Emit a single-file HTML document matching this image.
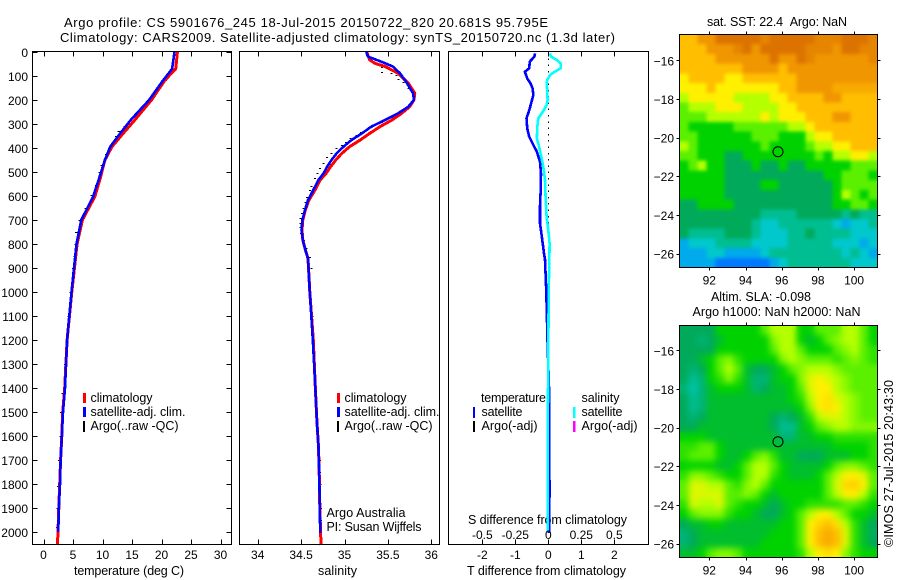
<!DOCTYPE html>
<html>
<head>
<meta charset="utf-8">
<title>Argo profile</title>
<style>
html,body{margin:0;padding:0;background:#fff;}
svg{display:block;}
text{font-family:"Liberation Sans",sans-serif;font-size:12px;fill:#000;}
text[textLength]{font-size:12.5px;}
text.big{font-size:13px;}
</style>
</head>
<body>
<svg id="chart" xmlns="http://www.w3.org/2000/svg" width="900" height="580" viewBox="0 0 900 580">
<defs>
<filter id="blur-sst-map" x="0" y="0" width="1" height="1" color-interpolation-filters="sRGB">
<feGaussianBlur in="SourceGraphic" stdDeviation="1.8" result="b"/>
<feMerge><feMergeNode in="SourceGraphic"/><feMergeNode in="b"/></feMerge>
</filter>
<filter id="blur-sla-map" x="0" y="0" width="1" height="1" color-interpolation-filters="sRGB">
<feGaussianBlur in="SourceGraphic" stdDeviation="3.5" result="b"/>
<feMerge><feMergeNode in="SourceGraphic"/><feMergeNode in="b"/></feMerge>
</filter>
</defs>
<rect width="900" height="580" fill="#fff"/>
<text class="big" x="64" y="27" textLength="484">Argo profile: CS 5901676_245 18-Jul-2015 20150722_820 20.681S 95.795E</text>
<text class="big" x="60" y="42" textLength="555">Climatology: CARS2009. Satellite-adjusted climatology: synTS_20150720.nc (1.3d later)</text>
<text x="74" y="575" textLength="110">temperature (deg C)</text>
<text x="318" y="575" textLength="39">salinity</text>
<text x="467" y="575" textLength="159">T difference from climatology</text>
<text x="468" y="524" textLength="159">S difference from climatology</text>
<g id="layer"></g>
<g>
<rect x="83" y="393" width="3" height="10" fill="#f00"/>
<rect x="83" y="407" width="3" height="10" fill="#00f"/>
<rect x="83" y="421" width="2" height="11" fill="#000"/>
<text x="90.5" y="402" textLength="62">climatology</text>
<text x="90.5" y="416" textLength="95">satellite-adj. clim.</text>
<text x="90.5" y="430" textLength="88">Argo(..raw -QC)</text>
</g>
<g>
<rect x="337" y="393" width="3" height="10" fill="#f00"/>
<rect x="337" y="407" width="3" height="10" fill="#00f"/>
<rect x="337" y="421" width="2" height="11" fill="#000"/>
<text x="344.5" y="402" textLength="62">climatology</text>
<text x="344.5" y="416" textLength="95">satellite-adj. clim.</text>
<text x="344.5" y="430" textLength="88">Argo(..raw -QC)</text>
<text x="326.5" y="517" textLength="79">Argo Australia</text>
<text x="326.5" y="531" textLength="95">PI: Susan Wijffels</text>
</g>
<g>
<text x="481" y="402" textLength="65">temperature</text>
<rect x="473" y="407" width="2" height="11" fill="#00f"/>
<rect x="473" y="421" width="2" height="11" fill="#000"/>
<text x="481.5" y="416" textLength="41">satellite</text>
<text x="481.5" y="430" textLength="56">Argo(-adj)</text>
<text x="581.5" y="402" textLength="38">salinity</text>
<rect x="573" y="407" width="2.5" height="11" fill="#0ff"/>
<rect x="573" y="421" width="2.5" height="11" fill="#f0f"/>
<text x="581.5" y="416" textLength="41">satellite</text>
<text x="581.5" y="430" textLength="56">Argo(-adj)</text>
</g>
<text x="707" y="26" textLength="140">sat. SST: 22.4 &#160;Argo: NaN</text>
<text x="711" y="301" textLength="100">Altim. SLA: -0.098</text>
<text x="692.5" y="316" textLength="168">Argo h1000: NaN h2000: NaN</text>
<text transform="translate(893,547) rotate(-90)" x="0" y="0" textLength="167">©IMOS 27-Jul-2015 20:43:30</text>
</svg>
<script>
// ---- shared depth axis ----
const depthTicks = [0,100,200,300,400,500,600,700,800,900,1000,1100,1200,1300,1400,1500,1600,1700,1800,1900,2000];

// ---- temperature panel ----
const tempTicks = [0,5,10,15,20,25,30];
const tempClimDepth = [0,70,117,200,283,339,395,450,520,603,700,800,1000,1200,1400,1500,1600,1700,1800,1900,2000,2055];
const tempClim = [22.7,22.4,20.6,18.3,15.5,13.5,11.6,10.4,9.7,8.7,6.6,5.7,4.8,4.0,3.6,3.25,3.1,2.9,2.75,2.6,2.45,2.35];
const tempSatDepth = [0,70,117,200,283,339,395,450,520,603,700,800,1000,1200,1400,1500,1600,1700,1800,1900,2000];
const tempSat = [22.2,21.8,20.3,17.9,14.8,13.0,11.3,10.4,9.5,8.4,6.4,5.6,4.75,4.0,3.65,3.3,3.1,2.9,2.8,2.6,2.5];
const tempArgoDepth = [117,198,220,308,328,350,391,411,425,471,499,533,554,596,650,700,750,800,850,900,1000,1100,1200,1300,1420,1500,1600,1700,1810,1900,1980];
const tempArgo = [20.7,17.9,17.2,13.8,12.8,12.4,11.4,11.0,10.7,9.9,9.6,9.3,9.0,8.2,7.2,6.2,5.6,5.5,5.3,5.1,4.7,4.3,3.95,3.75,3.3,3.05,2.95,2.75,2.55,2.45,2.35];

// ---- salinity panel ----
const salTicks = [34,34.5,35,35.5,36];
const salClimDepth = [0,33,47,61,89,130,172,200,228,255,283,311,339,367,394,422,450,478,505,533,575,617,658,700,742,783,825,860,1000,1200,1367,1450,1546,1646,1770,1895,2004,2055];
const salClim = [35.256,35.29,35.35,35.47,35.62,35.735,35.81,35.80,35.75,35.66,35.55,35.41,35.29,35.18,35.06,34.97,34.90,34.84,34.79,34.72,34.66,34.59,34.55,34.52,34.51,34.52,34.55,34.58,34.60,34.64,34.66,34.67,34.683,34.70,34.71,34.715,34.725,34.73];
const salSatDepth = [0,19,33,47,61,89,130,172,200,228,255,283,311,339,367,394,422,450,478,505,533,575,617,658,700,742,783,825,860,1000,1200,1367,1450,1546,1646,1770,1895,2004];
const salSat = [35.25,35.27,35.37,35.47,35.56,35.64,35.72,35.79,35.80,35.735,35.62,35.47,35.31,35.20,35.08,34.99,34.91,34.85,34.80,34.76,34.70,34.64,34.58,34.545,34.515,34.505,34.52,34.55,34.58,34.60,34.635,34.66,34.67,34.683,34.70,34.71,34.715,34.72];
const salArgoDepth = [61,85,89,96,114,124,151,165,207,235,263,290,314,322,332,346,360,376,387,401,422,439,461,485,506,526,557,575,606,626,651,669,693,711,731,753,783,818,853,900,1000,1100,1200,1300,1400,1500,1600,1700,1750,1800,1880,1900,1950];
const salArgo = [35.43,35.43,35.54,35.60,35.62,35.68,35.74,35.79,35.77,35.72,35.58,35.43,35.31,35.26,35.19,35.14,35.07,35.02,34.97,34.91,34.85,34.80,34.76,34.72,34.69,34.66,34.62,34.60,34.57,34.55,34.53,34.51,34.495,34.495,34.495,34.50,34.535,34.565,34.60,34.62,34.61,34.63,34.65,34.655,34.66,34.675,34.69,34.715,34.72,34.725,34.725,34.73,34.73];

// ---- difference panel ----
const diffTTicks = [-2,-1,0,1,2];
const diffSTicks = ["-0.5","-0.25","0","0.25","0.5"];
const diffSTickValues = [-0.5,-0.25,0,0.25,0.5];
const diffTDepth = [6,19,40,68,82,110,131,151,179,207,235,256,276,318,353,388,415,457,506,575,644,714,756,797,839,864,1000,1200,1400,1780,1790,1850,1860,2005];
const diffT = [-0.40,-0.42,-0.56,-0.58,-0.71,-0.64,-0.54,-0.48,-0.45,-0.51,-0.56,-0.61,-0.66,-0.64,-0.58,-0.45,-0.35,-0.25,-0.22,-0.23,-0.25,-0.25,-0.21,-0.17,-0.13,-0.10,-0.06,-0.025,0.02,0.02,0.05,0.05,0.02,0.02];
const diffSDepth = [6,19,33,47,68,82,96,117,131,158,200,221,242,256,276,311,360,394,429,478,533,617,686,742,797,853,1000,1500,1995];
const diffS = [0.013,0.02,0.063,0.093,0.093,0.05,0.013,-0.008,-0.013,-0.008,-0.005,-0.013,-0.033,-0.05,-0.076,-0.083,-0.086,-0.07,-0.056,-0.038,-0.025,-0.02,-0.013,0.0,0.01,0.008,0.003,-0.003,-0.005];

// ---- map panels ----
const lonTicks = [92,94,96,98,100];
const latTicks = [-16,-18,-20,-22,-24,-26];
const argoLon = 95.795;
const argoLat = -20.681;
const sstGrid = [
[9,9,10,10,11,11,11,11,11,10.5,11,11,11,11,11,10.5,10.5,10.5,11,11,11,10.5],
[9,9,9,10,10,10,10.5,11,10,11,11,11,11,11,10.5,10.5,10.5,10,11,11,10.5,10.5],
[9,9,9,9,10,10,10,10,10,10,11,10,10,11,10.5,10,10,10,10,10,10,10.5],
[9,9,9,9,9,9,9,10,10,10,10,9,10,10,10,10,10,10,10,10,10,10],
[8,9,9,9,9,8,8,9,9,9,9,9,9,10,10,10,10,10,10,10,10,10],
[8,8,8,9,8,8,8,8,8,8,8,9,9,10,10,10,10,9.5,9.5,9.5,9.5,9.5],
[7,8,8,8,8,8,7,7,7,7,8,8,9,9,9,9,10,10,9,9,9,9],
[6,7,7,7,8,8,8,7,7,7,7,8,8,9,9,9,9,9,9,9,9,9],
[6,6,6,7,7,7,7,7,7,8,7,8,8,8,9,9,9,10,10,9,9,9],
[6,5,5,5,5,5,6,6,6,6,6,6,7,7,8,9,9,9,9,9,9,9],
[6,6,5,5,5,5,5,5,6,6,6,5,5,5,7,8,8,9,9,9,9,9],
[7,6,5,5,5,5,5,5,5,6,5,5,5,5,6,7,7,8,8,9,9,9],
[6,6,5,5,5,4,4,5,5,5,5,5,5,5,5,6,5,7,7,8,8,7],
[5,6,7,5,5,4,4,4,5,4,4,5,4,4,5,5,5,5,5,6,6,6],
[5,5,5,5,5,4,4,4,4,4,4,4,4,4,4,4,5,5,6,6,6,5],
[5,5,5,5,5,4,4,4,4,5,5,4,4,4,4,4,4,5,6,6,6,6],
[5,5,5,5,5,4,4,4,4,4,4,4,4,4,4,4,4,5,7,6,5,6],
[4,4,5,5,5,5,4,4,4,4,4,4,4,4,4,4,4,5,5,6,6,5],
[4,4,4,4,4,4,4,4,4,3,3,3,3,4,4,4,4,4,3,4,3,3],
[4,4,4,4,4,4,4,4,3,2,2,3,3,3,3,3,3,2,1,2,2,3],
[4,3,3,3,3,4,4,4,3,2,2,2,3,3,4,3,3,3,3,2,2,2],
[1,2,2,2,3,3,3,3,2,2,2,2,3,3,3,3,3,2,2,2,1,2],
[1,1,1,2,2,1,1,1,1,2,3,3,3,3,3,3,3,3,2,3,2,1],
[1,1,1,1,0,0,0,0,0,0,1,2,3,3,3,3,3,3,3,2,2,2]
];
const slaGrid = [
[4,4,4,4,5,5,5,5,5,6,7,7,7,5,5,6,6,6,7,7,6,5],
[4,4,3.5,4,4.5,5,5,5,5,5,6.5,7,7,5,4.5,5,6,6.5,7,7,6,5],
[4,4,4,4,5,5,5,5,5,5,6,7,7,6,5,5,5,6,6.5,7,6,5.5],
[4,4,4.5,5,6,6.5,5.5,5,5,5,5,6.5,7,6.5,6,6,6,5.5,6,6.5,6,5.5],
[4,3.5,4,5,6,7,6,4.5,4,4,4.5,5,6,6.5,7,7,7,6.5,6,6,6,6],
[4,3,3.5,5,5.5,6.5,5.5,4.5,3.5,3.5,4.5,5,5,6.5,7.5,8,7.5,7,6.5,6,6,6],
[3.5,2.5,3.5,4.5,5,5,5,4.5,3.5,4,4.5,4.5,5,6,7.5,8,8,7,6.5,6,6,6],
[4,3,3.5,4.5,4.5,4.5,4.5,4.5,4.5,4.5,4.5,4.5,5,5.5,7,8,8.3,7.5,7,6.5,6,6],
[4,3,3.5,4.5,4.5,4.5,4.5,4.5,4.5,4.5,4.5,4.5,4.5,5,6.5,8,8.3,8,7,6.5,6,6],
[4,3.5,4,4.5,4.5,4.5,4.5,4.5,4.5,4.5,4,3.5,4,4.5,5.5,7,7.5,7.5,7,6.5,6,6],
[4,4,4.5,4.5,4.5,4.5,4.5,4.5,4.5,4.5,4,3,3,4.5,5,6,6.5,7,7,6.5,6.5,6.5],
[5,5,5,4.5,4.5,4.5,4.5,4.5,4.5,4.5,4.5,3.5,3.5,4.5,4.5,5,5,5.5,5.5,5.5,5.5,5.5],
[5.5,5.5,6,6,5,4.5,4.5,4.5,4.5,4.5,4.5,4.5,4.5,4.5,4.5,4.5,4.5,5,5,5,5,5.5],
[5.5,6,6,6,5,4.5,4.5,5,6,6.5,5.5,4.5,4.5,4,4,4,4.5,4.5,4.5,5,5,5.5],
[5,5,5,5,4.5,4.5,5,6,7,7,6,5,4.5,4.5,4.5,4.5,5,6,6.5,6.5,6,5.5],
[5.5,6.5,6.5,6,5.5,5,5,6,7,7,5.5,5,4.5,4.5,4.5,5,6,7,8,8,7.5,6],
[6,7.5,7.5,7,7,6,5.5,6.5,7,6,5,5,5,5,5,5,6,7.5,8.5,8.7,8,6],
[6,7.5,7.5,7.5,7.5,6,6,6.5,6,5,4.5,5,5,5,5,5,6,7,8,8,7,5.5],
[5.5,7.5,7,7,7.5,6,5.5,5,5,4.5,4,4.5,5,5,5.5,5.5,5.5,5.5,6,6,5.5,5],
[5,6,6.5,6.5,6.5,5.5,5,5,4.5,4,4,4.5,5,6,7,8,8,7,6,5,5,4.5],
[4,4.5,4.5,5,5,4.5,4.5,4.5,4.5,4.5,4.5,5,5,6,8,8.5,9,8.3,7,5.5,4.5,4],
[3.5,4,4.5,4.5,4.5,4.5,4.5,4.5,4.5,4.5,5,5,5,6,8,9,9.5,9,7.5,5.5,4.5,3.8],
[3.5,4,4.5,4.5,4.5,4.5,4.5,4.5,4.5,5,5,5,5,6,8,9,9.5,9,7.5,5.5,4.5,4],
[4.5,4.5,5,6,6.5,6.5,6,5,5,5,5,5,5,5.5,7,8,8.3,8,6.5,5.5,5,5]
];
const colorStops = [[0,120,255],[0,170,235],[0,200,205],[0,190,145],[0,170,90],[0,210,0],[90,240,0],[180,255,0],[255,240,0],[255,190,0],[240,150,0],[220,115,0]];

const SVGNS = "http://www.w3.org/2000/svg";
const layer = document.getElementById("layer");
let parent = layer;
function make(tag, name, attrs) {
  const el = document.createElementNS(SVGNS, tag);
  
  
  for (const k in attrs) el.setAttribute(k, attrs[k]);
  parent.appendChild(el);
  return el;
}
function label(name, x, y, str, anchor) {
  const t = make("text", name, {x: x, y: y, "text-anchor": anchor || "middle"});
  t.textContent = str;
  return t;
}

const yDepth = d => 52 + d * 0.24;
const PT = {left: 32.5, right: 231.5, x: v => 43.5 + v * 5.9};
const PS = {left: 239.5, right: 439.5, x: v => 257.7 + (v - 34) * 86.8};
const PD = {left: 448.5, right: 648.5, x: v => 548.3 + v * 33, sx: v => 548.3 + v * 132};
const TOP = 51.5, BOTTOM = 544.5;

function line(name, xs, ds, xf, color, width) {
  const pts = xs.map((v, i) => xf(v).toFixed(1) + "," + yDepth(ds[i]).toFixed(1)).join(" ");
  make("polyline", name, {points: pts, fill: "none", stroke: color, "stroke-width": width, "stroke-linejoin": "round", "shape-rendering": "crispEdges"});
}
function argoTicks(name, xs, ds, xf, w) {
  xs.forEach((v, i) => {
    make("rect", name, {x: (xf(v) - w / 2).toFixed(1), y: Math.round(yDepth(ds[i])), width: w, height: 1, fill: "#000", "shape-rendering": "crispEdges"});
  });
}
function panelFrame(name, P, xTicks, xf) {
  make("rect", name + "-frame", {x: P.left, y: TOP, width: P.right - P.left, height: BOTTOM - TOP, fill: "none", stroke: "#000", "stroke-width": 1, "shape-rendering": "crispEdges"});
  xTicks.forEach(v => {
    const x = Math.round(xf(v)) + 0.5;
    make("line", name + "-top-tick", {x1: x, x2: x, y1: TOP, y2: TOP + 5, stroke: "#000", "shape-rendering": "crispEdges"});
    make("line", name + "-bottom-tick", {x1: x, x2: x, y1: BOTTOM, y2: BOTTOM - 5, stroke: "#000", "shape-rendering": "crispEdges"});
  });
}

// temperature panel
argoTicks("argo-temperature-point", tempArgo, tempArgoDepth, PT.x, 3);
line("climatology-temperature-line", tempClim, tempClimDepth, PT.x, "#f00", 3);
line("satellite-temperature-line", tempSat, tempSatDepth, PT.x, "#00f", 2.6);
panelFrame("temperature-panel", PT, tempTicks, PT.x);
depthTicks.forEach(d => {
  const y = Math.round(yDepth(d)) + 0.5;
  make("line", "depth-tick-left", {x1: PT.left, x2: PT.left + 5, y1: y, y2: y, stroke: "#000", "shape-rendering": "crispEdges"});
  make("line", "depth-tick-right", {x1: PT.right, x2: PT.right - 5, y1: y, y2: y, stroke: "#000", "shape-rendering": "crispEdges"});
  label("depth-tick-label", 28, yDepth(d) + 5, String(d), "end");
});
tempTicks.forEach(v => label("temperature-tick-label", PT.x(v), 559, String(v)));

// salinity panel
argoTicks("argo-salinity-point", salArgo, salArgoDepth, PS.x, 2);
line("climatology-salinity-line", salClim, salClimDepth, PS.x, "#f00", 3);
line("satellite-salinity-line", salSat, salSatDepth, PS.x, "#00f", 2.6);
panelFrame("salinity-panel", PS, salTicks, PS.x);
salTicks.forEach(v => label("salinity-tick-label", PS.x(v), 559, String(v)));

// difference panel
make("line", "zero-reference-line", {x1: PD.x(0), x2: PD.x(0), y1: yDepth(0), y2: yDepth(900), stroke: "#000", "stroke-width": 1, "stroke-dasharray": "1.5 4.8", "shape-rendering": "crispEdges"});
line("t-difference-line", diffT, diffTDepth, PD.x, "#00f", 2.6);
line("s-difference-line", diffS, diffSDepth, PD.sx, "#0ff", 2.6);
panelFrame("difference-panel", PD, diffTTicks, PD.x);
diffTTicks.forEach(v => label("t-difference-tick-label", PD.x(v), 559, String(v)));
diffSTicks.forEach((s, i) => label("s-difference-tick-label", PD.sx(diffSTickValues[i]), 539, s));

// maps
function levelColor(v) {
  const lo = Math.max(0, Math.min(colorStops.length - 1, Math.floor(v)));
  const hi = Math.min(colorStops.length - 1, lo + 1);
  const f = v - lo;
  const c = colorStops[lo].map((a, i) => Math.round(a + (colorStops[hi][i] - a) * f));
  return "rgb(" + c.join(",") + ")";
}
function drawMap(name, grid, top, bottom, lat16Y) {
  const left = 679.5, right = 877.5;
  const xLon = lon => 709.3 + (lon - 92) * 18.1;
  const yLat = lat => lat16Y + (-16 - lat) * 19.32;
  const rows = grid.length, cols = grid[0].length;
  const cw = (right - left) / cols, ch = (bottom - top) / rows;
  const heat = make("g", name + "-heatmap", {filter: "url(#blur-" + name + ")"});
  parent = heat;
  grid.forEach((row, r) => row.forEach((v, c) => {
    make("rect", name + "-cell", {x: (left + c * cw).toFixed(2), y: (top + r * ch).toFixed(2), width: (cw + 0.4).toFixed(2), height: (ch + 0.4).toFixed(2), fill: levelColor(v), "shape-rendering": "crispEdges"});
  }));
  parent = layer;
  make("rect", name + "-frame", {x: left, y: top, width: right - left, height: bottom - top, fill: "none", stroke: "#000", "shape-rendering": "crispEdges"});
  lonTicks.forEach(lon => {
    const x = Math.round(xLon(lon)) + 0.5;
    make("line", name + "-top-tick", {x1: x, x2: x, y1: top, y2: top - 3, stroke: "#000", "shape-rendering": "crispEdges"});
    make("line", name + "-bottom-tick", {x1: x, x2: x, y1: bottom, y2: bottom + 3, stroke: "#000", "shape-rendering": "crispEdges"});
    label(name + "-lon-label", xLon(lon), bottom + 17, String(lon));
  });
  latTicks.forEach(lat => {
    const y = Math.round(yLat(lat)) + 0.5;
    make("line", name + "-left-tick", {x1: left, x2: left - 3, y1: y, y2: y, stroke: "#000", "shape-rendering": "crispEdges"});
    make("line", name + "-right-tick", {x1: right, x2: right + 3, y1: y, y2: y, stroke: "#000", "shape-rendering": "crispEdges"});
    label(name + "-lat-label", 674, yLat(lat) + 5, "\u2212" + Math.abs(lat), "end");
  });
  make("circle", name + "-argo-marker", {cx: xLon(argoLon).toFixed(1), cy: (yLat(argoLat) + 1).toFixed(1), r: 5, fill: "none", stroke: "#000", "stroke-width": 1});
}
drawMap("sst-map", sstGrid, 34.5, 267.5, 60.3);
drawMap("sla-map", slaGrid, 325.5, 557.5, 350.3);
</script>
</body>
</html>
